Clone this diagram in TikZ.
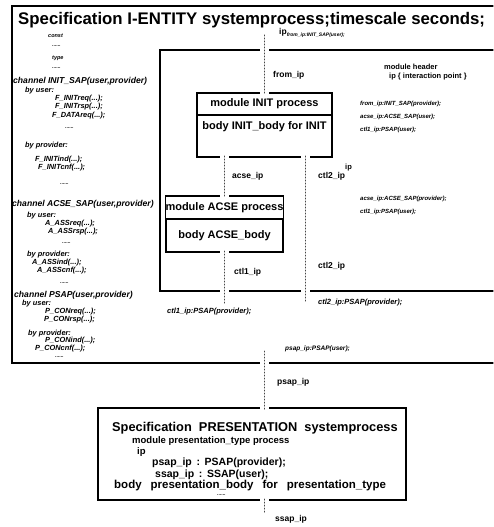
\documentclass[tikz,border=0pt]{standalone}
\usepackage{fontspec}
\setmainfont{Liberation Sans}
\usetikzlibrary{positioning}

\begin{document}
\begin{tikzpicture}[x=1pt,y=-1pt,line cap=round,
  frame/.style={line width=1.2pt},
  modbox/.style={draw,line width=1.1pt,outer sep=0pt,inner sep=0pt,minimum height=22,font=\fontsize{11}{12}\selectfont\bfseries},
  iplab/.style={anchor=west,inner sep=0pt,font=\fontsize{8.5}{9}\selectfont\bfseries},
  hdtxt/.style={anchor=west,inner sep=0pt,font=\fontsize{7.5}{8}\selectfont\bfseries},
  sigtxt/.style={anchor=west,inner sep=0pt,font=\fontsize{6}{7}\selectfont\bfseries\itshape},
  chtxt/.style={anchor=west,inner sep=0pt,font=\fontsize{7.4}{8}\selectfont\bfseries\itshape},
  prtxt/.style={anchor=west,inner sep=0pt,font=\fontsize{10.5}{11}\selectfont\bfseries},
  conn/.style={dotted,gray!55!black,line width=1pt,shorten <=-1pt,shorten >=-1pt,
    preaction={draw=white,solid,line width=9pt}}]
\useasboundingbox (0,0) rectangle (493,527);

% I-ENTITY frame and module header frame
\draw[frame] (493,6) -- (12,6) -- (12,363) -- (493,363);
\draw[frame] (493,50) -- (160,50) -- (160,291) -- (493,291);
\node[anchor=west,inner sep=0pt,font=\fontsize{16.8}{18}\selectfont\bfseries] (title) at (18,20)
  {Specification I-ENTITY systemprocess;timescale seconds;};
\node[iplab] (ipfrom) at (279,33) {ip\raisebox{-2.5pt}{\fontsize{5}{6}\selectfont\itshape from\_ip:INIT\_SAP(user);}};

% declarations
\node[chtxt,font=\fontsize{5.5}{6}\selectfont\bfseries\itshape] (cnst) at (48,36) {const};
\node[chtxt,font=\fontsize{5}{6}\selectfont\bfseries] (dt1) at (52,46) {......};
\node[chtxt,font=\fontsize{5.5}{6}\selectfont\bfseries\itshape] (typ) at (52,58) {type};
\node[chtxt,font=\fontsize{5}{6}\selectfont\bfseries] (dt2) at (52,68) {......};
\node[chtxt,font=\fontsize{8.6}{9}\selectfont\bfseries\itshape] (chinit) at (13,81) {channel INIT\_SAP(user,provider)};
\node[chtxt] (iu) at (25,91) {by user:};
\node[chtxt] (iu1) at (55,99) {F\_INITreq(...);};
\node[chtxt] (iu2) at (55,107) {F\_INITrsp(...);};
\node[chtxt] (iu3) at (52,116) {F\_DATAreq(...);};
\node[chtxt,font=\fontsize{5}{6}\selectfont\bfseries] (dt3) at (65,128) {......};
\node[chtxt] (ip) at (25,146) {by provider:};
\node[chtxt] (ip1) at (35,160) {F\_INITind(...);};
\node[chtxt] (ip2) at (38,168) {F\_INITcnf(...);};
\node[chtxt,font=\fontsize{5}{6}\selectfont\bfseries] (dt4) at (60,184) {......};
\node[chtxt,font=\fontsize{8.6}{9}\selectfont\bfseries\itshape] (chacse) at (12,204) {channel ACSE\_SAP(user,provider)};
\node[chtxt] (au) at (27,216) {by user:};
\node[chtxt] (au1) at (45,224) {A\_ASSreq(...);};
\node[chtxt] (au2) at (48,232) {A\_ASSrsp(...);};
\node[chtxt,font=\fontsize{5}{6}\selectfont\bfseries] (dt5) at (62,243) {......};
\node[chtxt] (ap) at (27,255) {by provider:};
\node[chtxt] (ap1) at (32,263) {A\_ASSind(...);};
\node[chtxt] (ap2) at (37,271) {A\_ASScnf(...);};
\node[chtxt,font=\fontsize{5}{6}\selectfont\bfseries] (dt6) at (60,283) {......};
\node[chtxt,font=\fontsize{8.6}{9}\selectfont\bfseries\itshape] (chpsap) at (14,295) {channel PSAP(user,provider)};
\node[chtxt] (pu) at (22,304) {by user:};
\node[chtxt] (pu1) at (45,312) {P\_CONreq(...);};
\node[chtxt] (pu2) at (44,320) {P\_CONrsp(...);};
\node[chtxt] (pp) at (28,334) {by provider:};
\node[chtxt] (pp1) at (45,341) {P\_CONind(...);};
\node[chtxt] (pp2) at (35,349) {P\_CONcnf(...);};
\node[chtxt,font=\fontsize{5}{6}\selectfont\bfseries] (dt7) at (55,357) {......};

% module header
\node[hdtxt] (mhead) at (384,67) {module header};
\node[hdtxt] (iphead) at (389,77) {ip \{ interaction point \}};
\node[sigtxt] (h1) at (360,104) {from\_ip:INIT\_SAP(provider);};
\node[sigtxt] (h2) at (360,117) {acse\_ip:ACSE\_SAP(user);};
\node[sigtxt] (h3) at (360,130) {ctl1\_ip:PSAP(user);};
\node[hdtxt] (iphead2) at (345,168) {ip};
\node[sigtxt] (h4) at (360,199) {acse\_ip:ACSE\_SAP(provider);};
\node[sigtxt] (h5) at (360,212) {ctl1\_ip:PSAP(user);};

% INIT and ACSE processes
\node[modbox,minimum width=135] (initmod) at (264.5,104) {module INIT process};
\node[modbox,minimum width=135,minimum height=42,text depth=20pt,below=0pt of initmod] (initbody) {body INIT\_body for INIT};
\node[modbox,minimum width=117,minimum height=23] (acsemod) at (224.5,207.5) {module ACSE process};
\node[modbox,minimum width=117,minimum height=33,below=0pt of acsemod] (acsebody) {body ACSE\_body};

\node[iplab] (fromlab) at (273,75) {from\_ip};
\node[iplab] (acselab) at (232,176) {acse\_ip};
\node[iplab] (ctl2laba) at (318,176) {ctl2\_ip};
\node[iplab] (ctl1lab) at (234,272) {ctl1\_ip};
\node[iplab] (ctl2labb) at (318,266) {ctl2\_ip};
\node[sigtxt,font=\fontsize{7.5}{8}\selectfont\bfseries\itshape] (ctl1sig) at (167,312) {ctl1\_ip:PSAP(provider);};
\node[sigtxt,font=\fontsize{7.5}{8}\selectfont\bfseries\itshape] (ctl2sig) at (318,303) {ctl2\_ip:PSAP(provider);};
\node[sigtxt,font=\fontsize{6.5}{7}\selectfont\bfseries\itshape] (psapsig) at (285,349) {psap\_ip:PSAP(user);};

% PRESENTATION
\node[draw,line width=1.1pt,outer sep=0pt,minimum width=308,minimum height=92] (pres) at (252,454) {};
\node[prtxt,font=\fontsize{12.8}{13}\selectfont\bfseries] (prtitle) at (112,428) {Specification\ \ PRESENTATION\ \ systemprocess};
\node[prtxt,font=\fontsize{9.5}{10}\selectfont\bfseries] (pr1) at (132,441) {module presentation\_type process};
\node[prtxt,font=\fontsize{9.5}{10}\selectfont\bfseries] (pr2) at (137,452) {ip};
\node[prtxt] (pr3) at (152,463) {psap\_ip\ \,:\ \,PSAP(provider);};
\node[prtxt] (pr4) at (155,475) {ssap\_ip\ \,:\ \,SSAP(user);};
\node[prtxt,font=\fontsize{11.5}{12}\selectfont\bfseries] (pr5) at (114,486) {body\hspace{9pt}presentation\_body\hspace{9pt}for\hspace{9pt}presentation\_type};
\node[prtxt,font=\fontsize{5}{6}\selectfont\bfseries] (pr6) at (217,495) {......};
\node[iplab] (psaplab) at (277,382) {psap\_ip};
\node[iplab] (ssaplab) at (275,519) {ssap\_ip};

% interaction points
\coordinate (fromend) at (264.5,36);
\coordinate (ctl1end) at (224.5,302);
\coordinate (ctl2end) at (305,300);
\coordinate (psapend) at (264.5,352);
\coordinate (ssapend) at (264.5,512);
\draw[conn] (fromend) -- (initmod.north);
\draw[conn] (acsemod.north |- initbody.south) -- (acsemod.north);
\draw[conn] (initbody.south -| ctl2end) -- (ctl2end);
\draw[conn] (acsebody.south) -- (ctl1end);
\draw[conn] (psapend) -- (pres.north -| psapend);
\draw[conn] (pres.south -| ssapend) -- (ssapend);
\end{tikzpicture}
\end{document}
